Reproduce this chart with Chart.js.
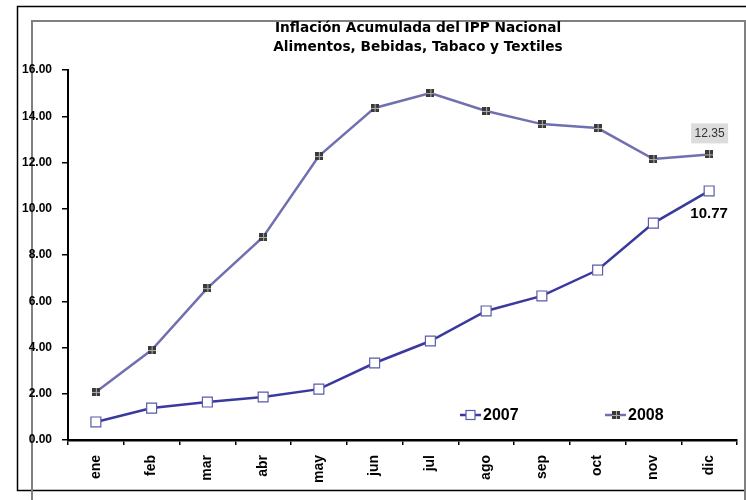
<!DOCTYPE html>
<html><head><meta charset="utf-8">
<script src="https://cdn.jsdelivr.net/npm/chart.js@4.4.1/dist/chart.umd.min.js"></script>
<style>html,body{margin:0;padding:0;background:#fff}#wrap{width:746px;height:500px;position:relative}</style>
</head><body><div id="wrap"><canvas id="c" width="746" height="500"></canvas></div>
<script>
const titleLines = ['Inflación Acumulada del IPP Nacional', 'Alimentos, Bebidas, Tabaco y Textiles'];
const months = ['ene','feb','mar','abr','may','jun','jul','ago','sep','oct','nov','dic'];
const seriesNames = ['2007', '2008'];
const values2007 = [0.78, 1.38, 1.64, 1.86, 2.20, 3.33, 4.28, 5.58, 6.23, 7.35, 9.38, 10.77];
const values2008 = [2.08, 3.89, 6.57, 8.78, 12.28, 14.36, 15.00, 14.23, 13.66, 13.49, 12.15, 12.35];
const yTicks = [0, 2, 4, 6, 8, 10, 12, 14, 16];

const ARIAL = "'Liberation Sans', Arial, sans-serif";

function makeHatchMarker() {
  const c = document.createElement('canvas');
  c.width = 8; c.height = 8;
  const x = c.getContext('2d');
  x.fillStyle = '#3a3a3a'; x.fillRect(0, 0, 8, 8);
  x.fillStyle = '#b0b0b0'; x.fillRect(4, 0, 1, 8); x.fillRect(0, 4, 8, 1);
  return c;
}
const hatch = makeHatchMarker();

const decor = {
  id: 'decor',
  beforeDraw(chart) {
    const ctx = chart.ctx;
    ctx.save();
    ctx.fillStyle = '#fff';
    ctx.fillRect(0, 0, chart.width, chart.height);
    // outer black frame
    ctx.strokeStyle = '#000'; ctx.lineWidth = 1.5;
    ctx.beginPath();
    ctx.moveTo(chart.width + 5, 6.5); ctx.lineTo(17.5, 6.5); ctx.lineTo(17.5, 490.5); ctx.lineTo(chart.width + 5, 490.5);
    ctx.stroke();
    // inner gray frame
    ctx.strokeStyle = '#808080'; ctx.lineWidth = 2;
    ctx.beginPath();
    ctx.moveTo(32, chart.height); ctx.lineTo(32, 21); ctx.lineTo(745, 21); ctx.lineTo(745, chart.height);
    ctx.stroke();
    ctx.restore();
  },
  afterDraw(chart) {
    const ctx = chart.ctx;
    ctx.save();
    // title
    ctx.fillStyle = '#000';
    ctx.textAlign = 'center'; ctx.textBaseline = 'alphabetic';
    ctx.font = "bold 13.7px 'DejaVu Sans', sans-serif";
    ctx.fillText(titleLines[0], 418, 32);
    ctx.fillText(titleLines[1], 418, 51);

    // legend
    const area = chart.chartArea;
    const ly = 415;
    const starts = [area.left + 392, area.left + 537];
    chart.data.datasets.forEach((ds, i) => {
      const x0 = starts[i];
      ctx.strokeStyle = ds.borderColor; ctx.lineWidth = 2.5;
      ctx.beginPath(); ctx.moveTo(x0, ly); ctx.lineTo(x0 + 21, ly); ctx.stroke();
      if (i === 0) {
        ctx.fillStyle = '#fff'; ctx.strokeStyle = ds.pointBorderColor; ctx.lineWidth = 1.2;
        ctx.fillRect(x0 + 6, ly - 4.5, 9, 9); ctx.strokeRect(x0 + 6, ly - 4.5, 9, 9);
      } else {
        ctx.drawImage(hatch, Math.round(x0 + 7), Math.round(ly - 4));
      }
      ctx.fillStyle = '#000';
      ctx.font = "bold 16px " + ARIAL;
      ctx.textAlign = 'left'; ctx.textBaseline = 'middle';
      ctx.fillText(ds.label, x0 + 23, ly + 1);
    });

    // end-value labels
    const m0 = chart.getDatasetMeta(0), m1 = chart.getDatasetMeta(1);
    const p0 = m0.data[m0.data.length - 1], p1 = m1.data[m1.data.length - 1];
    const v0 = values2007[values2007.length - 1], v1 = values2008[values2008.length - 1];
    ctx.fillStyle = '#dcdcdc';
    ctx.fillRect(p1.x - 18, p1.y - 31, 37, 20);
    ctx.fillStyle = '#333';
    ctx.font = "12px " + ARIAL;
    ctx.textAlign = 'center'; ctx.textBaseline = 'middle';
    ctx.fillText(v1.toFixed(2), p1.x + 0.5, p1.y - 21);
    ctx.fillStyle = '#000';
    ctx.font = "bold 15px " + ARIAL;
    ctx.fillText(v0.toFixed(2), p0.x, p0.y + 23);
    ctx.restore();
  }
};

new Chart(document.getElementById('c'), {
  type: 'line',
  data: {
    labels: months,
    datasets: [
      {
        label: seriesNames[0], data: values2007,
        borderColor: '#3a3a9e', borderWidth: 2.5, tension: 0,
        pointStyle: 'rect', pointRadius: 7, pointBackgroundColor: '#fff',
        pointBorderColor: '#5a5aa8', pointBorderWidth: 1.2
      },
      {
        label: seriesNames[1], data: values2008,
        borderColor: '#7070b0', borderWidth: 2.5, tension: 0,
        pointStyle: hatch, pointRadius: 4,
        pointBackgroundColor: '#3a3a3a', pointBorderColor: '#3a3a3a'
      }
    ]
  },
  options: {
    responsive: false, animation: false, devicePixelRatio: 1,
    layout: { padding: { top: 70, left: 0, right: 9, bottom: 0 } },
    plugins: { legend: { display: false }, title: { display: false }, tooltip: { enabled: false } },
    scales: {
      x: {
        offset: true,
        grid: { offset: true, drawOnChartArea: false, drawTicks: true, tickLength: 5, color: '#000', lineWidth: 1.5 },
        border: { display: true, color: '#000', width: 2.5 },
        ticks: { minRotation: 90, maxRotation: 90, autoSkip: false, padding: 10, color: '#000',
          font: { family: ARIAL, weight: 'bold', size: 14 } },
        afterFit(s) { s.height = 60; }
      },
      y: {
        min: 0, max: 16,
        afterBuildTicks(s) { s.ticks = yTicks.map(v => ({ value: v })); },
        grid: { drawOnChartArea: false, drawTicks: true, tickLength: 6, color: '#000', lineWidth: 1.5 },
        border: { display: true, color: '#000', width: 2 },
        ticks: { padding: 10, color: '#000', font: { family: ARIAL, weight: 'bold', size: 12 },
          callback: v => Number(v).toFixed(2) },
        afterFit(s) { s.width = 68; }
      }
    }
  },
  plugins: [decor]
});
</script>
</body></html>
